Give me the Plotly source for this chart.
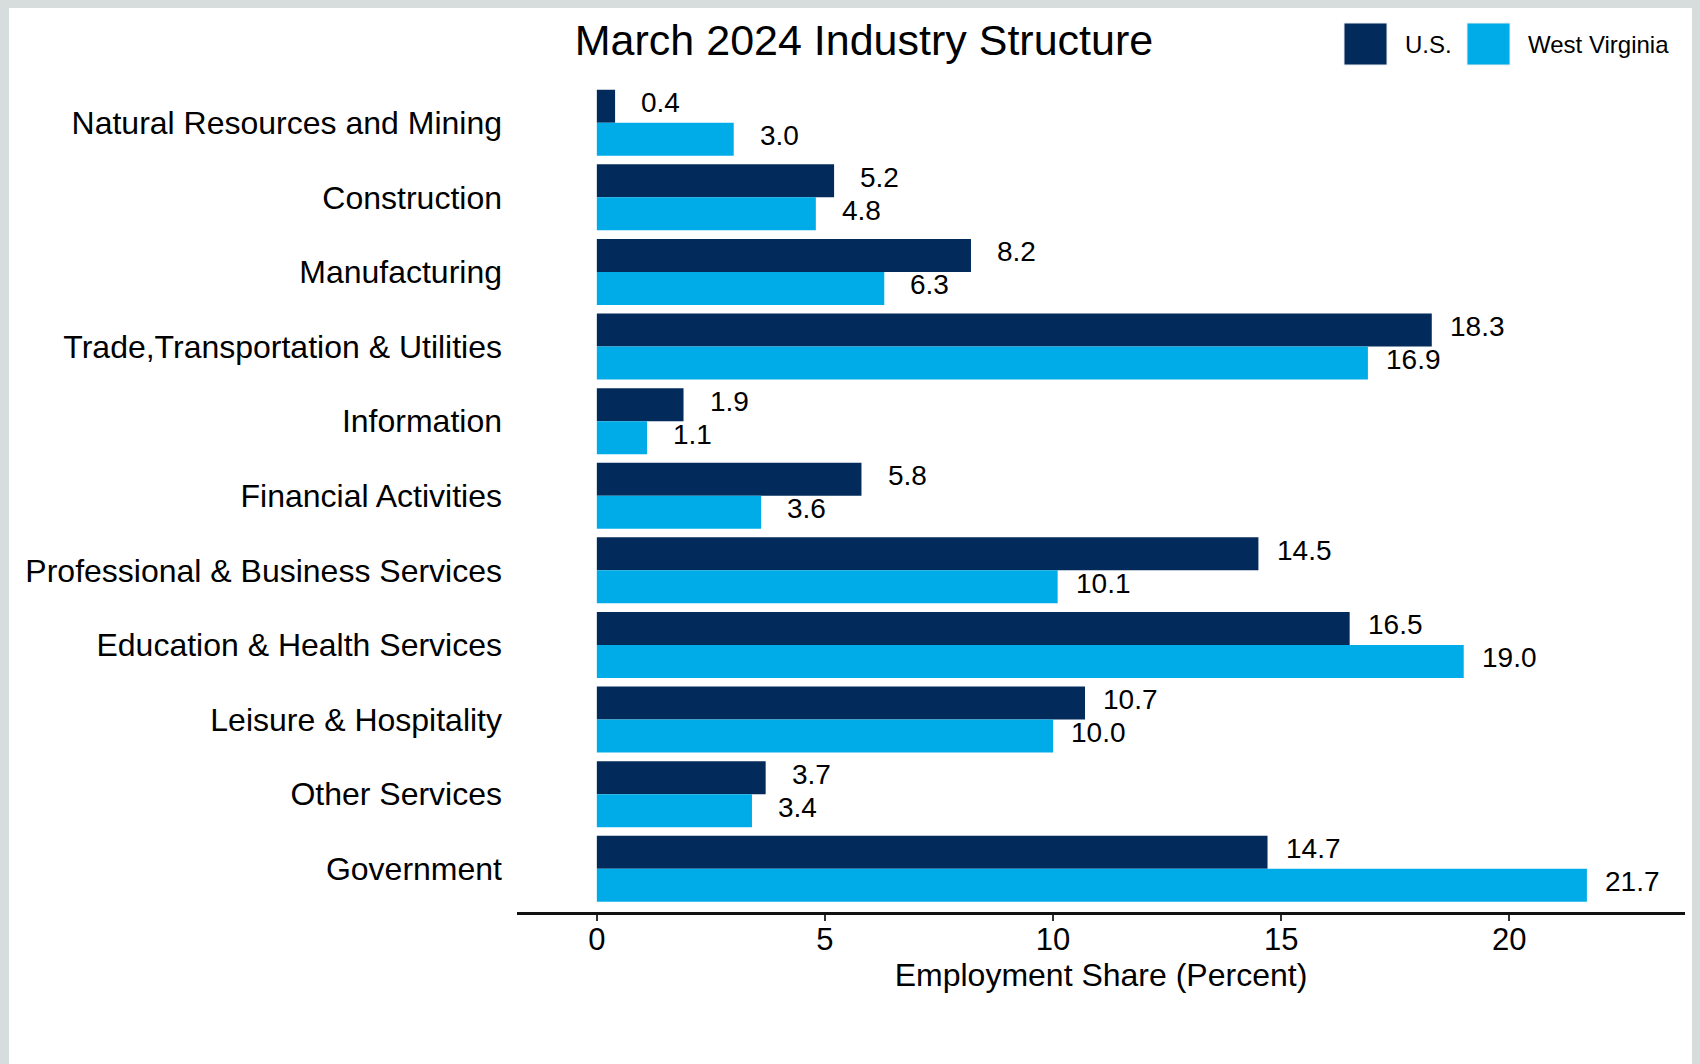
import plotly.graph_objects as go

categories = [
    "Natural Resources and Mining",
    "Construction",
    "Manufacturing",
    "Trade,Transportation & Utilities",
    "Information",
    "Financial Activities",
    "Professional & Business Services",
    "Education & Health Services",
    "Leisure & Hospitality",
    "Other Services",
    "Government",
]
us_values = [0.4, 5.2, 8.2, 18.3, 1.9, 5.8, 14.5, 16.5, 10.7, 3.7, 14.7]
wv_values = [3.0, 4.8, 6.3, 16.9, 1.1, 3.6, 10.1, 19.0, 10.0, 3.4, 21.7]
x_ticks = [0, 5, 10, 15, 20]
series_names = ["U.S.", "West Virginia"]

US_COLOR = "#022b5b"
WV_COLOR = "#00ace8"
FRAME = "#d7dddd"
FONT = "Arial, Liberation Sans, sans-serif"

W, H = 1700, 1064
# plot area in figure pixels (page shows the figure offset by the 8px body margin)
L, R, T, B = 509, 1677, 70, 904
PW, PH = R - L, B - T


def px(x):
    return (x - L) / PW


def py(y):
    return (B - y) / PH


fig = go.Figure()
fig.add_trace(go.Bar(y=categories, x=us_values, orientation="h", name=series_names[0],
                     marker=dict(color=US_COLOR, line=dict(width=0)), showlegend=False))
fig.add_trace(go.Bar(y=categories, x=wv_values, orientation="h", name=series_names[1],
                     marker=dict(color=WV_COLOR, line=dict(width=0)), showlegend=False))

annotations = []
for cat, u, w in zip(categories, us_values, wv_values):
    annotations.append(dict(x=u + 1.0, y=cat, xref="x", yref="y", text=f"{u:.1f}",
                            showarrow=False, xanchor="center", yanchor="middle", yshift=20,
                            font=dict(size=28, color="black", family=FONT)))
    annotations.append(dict(x=w + 1.0, y=cat, xref="x", yref="y", text=f"{w:.1f}",
                            showarrow=False, xanchor="center", yanchor="middle", yshift=-13,
                            font=dict(size=28, color="black", family=FONT)))

shapes = [
    # thin extra frame strip on the left edge
    dict(type="rect", xref="paper", yref="paper", x0=px(0), x1=px(1), y0=py(H), y1=py(0),
         fillcolor=FRAME, line=dict(width=0), layer="below"),
    # custom legend squares
    dict(type="rect", xref="paper", yref="paper", x0=px(1336), x1=px(1379), y0=py(57), y1=py(15),
         fillcolor=US_COLOR, line=dict(width=1, color="#e8ecef")),
    dict(type="rect", xref="paper", yref="paper", x0=px(1459), x1=px(1502), y0=py(57), y1=py(15),
         fillcolor=WV_COLOR, line=dict(width=1, color="#e8ecef")),
]
annotations.append(dict(x=px(1395), y=py(36), xref="paper", yref="paper", text=series_names[0],
                        showarrow=False, xanchor="left", yanchor="middle",
                        font=dict(size=24, color="black", family=FONT)))
annotations.append(dict(x=px(1518), y=py(36), xref="paper", yref="paper", text=series_names[1],
                        showarrow=False, xanchor="left", yanchor="middle",
                        font=dict(size=24, color="black", family=FONT)))

fig.update_layout(
    width=W, height=H,
    margin=dict(l=L, r=W - R, t=T, b=H - B, pad=0),
    paper_bgcolor="white", plot_bgcolor="white",
    barmode="group", bargap=0.115, bargroupgap=0,
    font=dict(family=FONT, color="black"),
    title=dict(text="March 2024 Industry Structure", x=856 / W, xanchor="center",
               y=1 - 32 / H, yanchor="middle", yref="container",
               font=dict(size=43, color="black", family=FONT)),
    xaxis=dict(range=[-1.75, 23.85], tickvals=x_ticks, ticktext=[str(v) for v in x_ticks],
               showgrid=False, zeroline=False, showline=True, linecolor="#111111", linewidth=3,
               ticks="outside", ticklen=6, tickwidth=2, tickcolor="#333333",
               ticklabelstandoff=-8,
               tickfont=dict(size=31, color="black", family=FONT),
               title=dict(text="Employment Share (Percent)", standoff=4,
                          font=dict(size=32, color="black", family=FONT))),
    yaxis=dict(range=[10.58, -0.6], categoryorder="array", categoryarray=categories,
               showgrid=False, zeroline=False, showline=False, ticks="",
               ticklabelstandoff=14,
               tickfont=dict(size=32, color="black", family=FONT)),
    annotations=annotations,
    shapes=shapes,
)

fig.write_html(
    "out.html",
    post_script="document.body.style.background='%s';" % FRAME,
)
